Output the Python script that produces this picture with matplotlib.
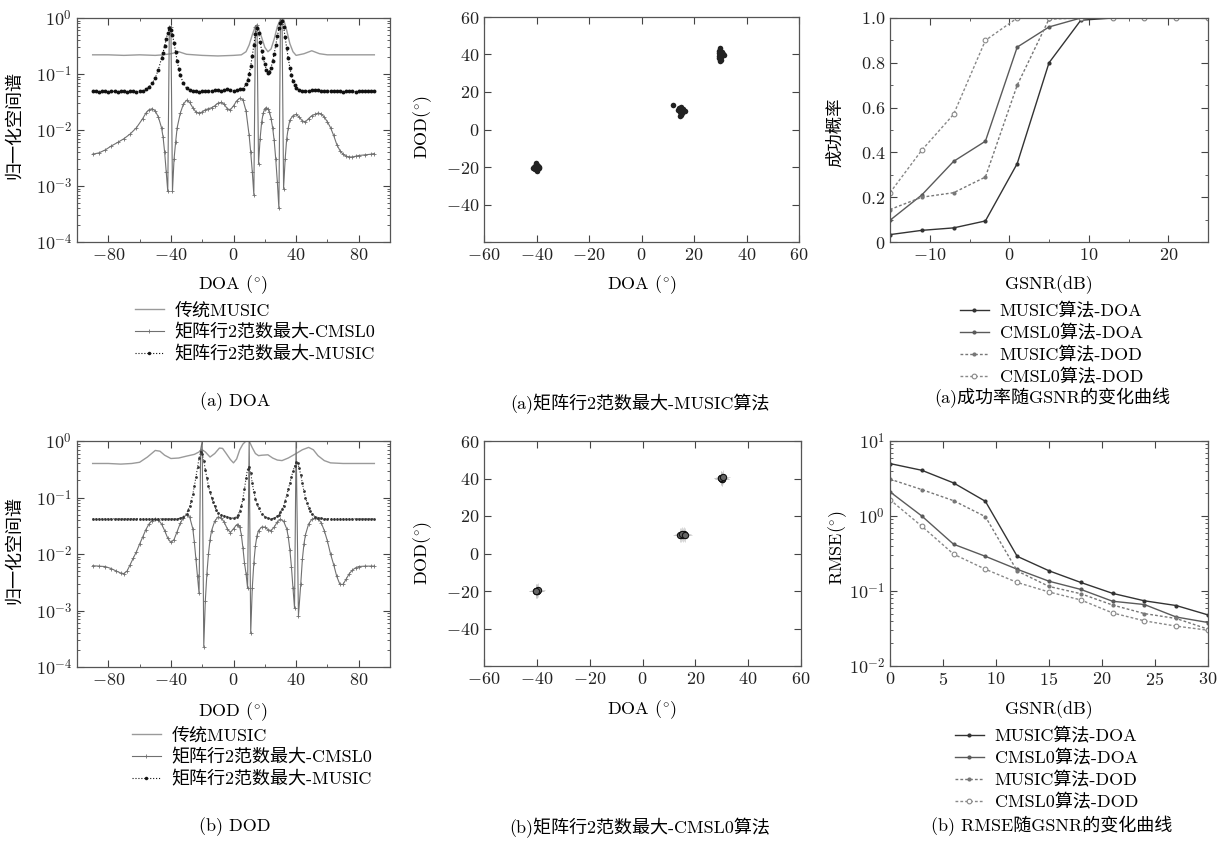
import numpy as np
import matplotlib
matplotlib.use("Agg")
import matplotlib.pyplot as plt
from matplotlib.ticker import FuncFormatter, MultipleLocator, LogLocator, NullFormatter
from matplotlib.lines import Line2D

plt.rcParams['font.family'] = ['cmr10', 'Noto Sans CJK SC']
plt.rcParams['mathtext.fontset'] = 'cm'
plt.rcParams['axes.unicode_minus'] = False
plt.rcParams['font.size'] = 13

# ---------------- data ----------------
# (a) DOA spectra: (angle, normalised spectrum)
doa_music = [(-90, .22), (-80, .22), (-70, .215), (-60, .22), (-50, .215), (-45, .22), (-40, .23),
             (-35, .25), (-30, .225), (-20, .215), (-10, .21), (0, .215), (5, .22), (8, .25), (10, .33),
             (12, .5), (14, .72), (15, .74), (16, .66), (18, .45), (20, .3), (22, .25), (24, .28),
             (26, .42), (28, .7), (30, .95), (31, 1.0), (32, .95), (34, .6), (36, .35), (38, .25),
             (40, .215), (45, .23), (50, .26), (55, .23), (60, .22), (70, .22), (80, .22), (90, .22)]

doa_cmsl0 = [(-90, 3.7e-3), (-86, 3.9e-3), (-82, 4.4e-3), (-78, 5.2e-3), (-74, 6e-3), (-70, 7e-3),
             (-66, 8.5e-3), (-62, .011), (-58, .016), (-56, .02), (-54, .023), (-52, .024), (-50, .022),
             (-48, .017), (-46, .011), (-45, 7.5e-3), (-44, 4e-3), (-43, 1.8e-3), (-42, 8e-4), (-41, .7),
             (-40, .7), (-39, 8e-4), (-38, 3e-3), (-37, 6e-3), (-36, .011), (-34, .02), (-32, .029),
             (-30, .034), (-28, .031), (-26, .025), (-24, .021), (-22, .02), (-20, .021), (-18, .023),
             (-16, .024), (-14, .025), (-12, .027), (-10, .03), (-8, .031), (-6, .029), (-4, .024),
             (-2, .023), (0, .027), (2, .033), (4, .037), (6, .035), (8, .022), (10, 8e-3), (11, 4e-3),
             (12, 1.8e-3), (13, 7e-4), (14, .7), (15, .75), (16, 2.5e-3), (17, 7e-3), (18, .014),
             (19, .02), (20, .024), (21, .025), (22, .024), (23, .021), (24, .016), (25, .011),
             (26, 6.5e-3), (27, 3e-3), (28, 1.2e-3), (29, 4e-4), (30, 1.0), (31, 1.0), (32, 9e-4),
             (33, 3e-3), (34, 7e-3), (35, .011), (36, .015), (38, .018), (40, .019), (42, .017),
             (44, .0145), (46, .014), (48, .016), (50, .018), (52, .019), (54, .02), (56, .0195),
             (58, .017), (60, .014), (62, .011), (64, 8e-3), (66, 5.5e-3), (68, 4.3e-3), (70, 3.7e-3),
             (72, 3.4e-3), (74, 3.3e-3), (76, 3.3e-3), (78, 3.4e-3), (80, 3.5e-3), (84, 3.6e-3),
             (88, 3.7e-3), (90, 3.8e-3)]

doa_rowmusic = [(-90, .049), (-88, .049), (-86, .048), (-84, .049), (-82, .049), (-80, .048), (-78, .049),
                (-76, .049), (-74, .048), (-72, .049), (-70, .049), (-68, .048), (-66, .049), (-64, .049),
                (-62, .048), (-60, .049), (-58, .050), (-56, .053), (-54, .058), (-52, .068), (-50, .085),
                (-48, .12), (-46, .19), (-45, .24), (-44, .32), (-43, .42), (-42, .55), (-41, .66),
                (-40, .62), (-39, .5), (-38, .36), (-37, .25), (-36, .17), (-35, .125), (-34, .095),
                (-32, .068), (-30, .056), (-28, .052), (-26, .050), (-24, .049), (-22, .048), (-20, .049),
                (-18, .049), (-16, .050), (-14, .050), (-12, .051), (-10, .052), (-8, .050), (-6, .051),
                (-4, .053), (-2, .052), (0, .050), (2, .051), (4, .053), (6, .055), (8, .065), (9, .078),
                (10, .10), (11, .14), (12, .21), (13, .33), (14, .52), (15, .66), (16, .55), (17, .38),
                (18, .26), (19, .19), (20, .15), (21, .12), (22, .105), (23, .11), (24, .13), (25, .17),
                (26, .23), (27, .33), (28, .47), (29, .65), (30, .8), (31, .9), (32, .7), (33, .45),
                (34, .29), (35, .19), (36, .13), (37, .095), (38, .075), (39, .064), (40, .057),
                (42, .052), (44, .050), (46, .049), (48, .050), (50, .051), (52, .052), (54, .051),
                (56, .050), (58, .049), (60, .049), (62, .050), (64, .049), (66, .049), (68, .049),
                (70, .048), (72, .049), (74, .049), (76, .049), (78, .048), (80, .049), (82, .049),
                (84, .049), (86, .049), (88, .049), (90, .049)]

# (b) DOD spectra
dod_music = [(-90, .40), (-80, .40), (-72, .39), (-65, .40), (-60, .42), (-55, .52), (-50, .68), (-47, .66),
             (-44, .56), (-40, .49), (-35, .50), (-30, .54), (-25, .58), (-22, .64), (-20, .70), (-18, .64),
             (-15, .52), (-12, .6), (-9, .75), (-7, .74), (-5, .62), (-2, .47), (0, .41), (2, .48), (4, .7),
             (6, .88), (8, 1.0), (10, 1.0), (12, .76), (14, .6), (16, .55), (18, .56), (22, .57), (25, .5),
             (28, .46), (31, .45), (35, .5), (40, .6), (44, .7), (48, .77), (51, .7), (54, .55), (58, .45),
             (62, .41), (70, .40), (80, .40), (90, .40)]

dod_cmsl0 = [(-90, 6.2e-3), (-86, 6.1e-3), (-82, 6.0e-3), (-78, 5.5e-3), (-75, 5e-3), (-72, 4.6e-3),
             (-70, 4.5e-3), (-68, 5e-3), (-66, 6.5e-3), (-64, 8.5e-3), (-62, .011), (-60, .015), (-58, .02),
             (-56, .027), (-54, .034), (-52, .039), (-50, .041), (-48, .04), (-46, .034), (-44, .026),
             (-42, .019), (-40, .016), (-38, .018), (-36, .025), (-34, .035), (-32, .044), (-30, .05),
             (-28, .045), (-26, .028), (-25, .016), (-24, 8e-3), (-23, 4e-3), (-22, 2e-3), (-21, .7),
             (-20, 1.0), (-19, 2.3e-4), (-18, 1.5e-3), (-17, 4.5e-3), (-16, .01), (-15, .018), (-14, .026),
             (-12, .038), (-10, .045), (-8, .044), (-6, .037), (-4, .028), (-2, .024), (0, .028), (2, .033),
             (3, .033), (4, .03), (5, .022), (6, .013), (7, 7e-3), (8, 4.5e-3), (9, 2.5e-3), (10, 1.0),
             (11, 4e-4), (12, 2.5e-3), (13, 7e-3), (14, .014), (15, .021), (16, .026), (18, .03), (20, .03),
             (22, .027), (24, .026), (26, .03), (28, .037), (30, .041), (32, .038), (34, .028), (35, .02),
             (36, .012), (37, 6e-3), (38, 2.5e-3), (39, 1.1e-3), (40, 1.0), (41.5, 8e-4), (43, 3e-3),
             (44, 8e-3), (45, .015), (46, .022), (48, .034), (50, .041), (52, .043), (54, .042), (56, .036),
             (58, .026), (60, .017), (62, .01), (64, 6.5e-3), (66, 4e-3), (68, 2.9e-3), (70, 2.9e-3),
             (72, 3.6e-3), (74, 4.5e-3), (76, 5.2e-3), (78, 5.7e-3), (80, 6e-3), (84, 6.1e-3),
             (88, 6.1e-3), (90, 6.1e-3)]

dod_rowmusic = [(-90, .042), (-88, .042), (-86, .042), (-84, .042), (-82, .042), (-80, .042), (-78, .042),
                (-76, .042), (-74, .042), (-72, .042), (-70, .042), (-68, .042), (-66, .042), (-64, .042),
                (-62, .042), (-60, .042), (-58, .042), (-56, .042), (-54, .042), (-52, .042), (-50, .042),
                (-48, .042), (-46, .042), (-44, .042), (-42, .042), (-40, .042), (-38, .042), (-36, .042),
                (-34, .043), (-32, .046), (-30, .052), (-29, .06), (-28, .07), (-27, .088), (-26, .115),
                (-25, .16), (-24, .23), (-23, .34), (-22, .5), (-21, .65), (-20, .6), (-19, .45), (-18, .31),
                (-17, .22), (-16, .16), (-15, .125), (-14, .1), (-13, .083), (-12, .07), (-11, .06),
                (-10, .054), (-8, .05), (-6, .048), (-4, .046), (-2, .044), (0, .043), (2, .046), (3, .05),
                (4, .058), (5, .07), (6, .095), (7, .14), (8, .22), (9, .32), (10, .35), (11, .27), (12, .18),
                (13, .125), (14, .095), (15, .078), (16, .065), (18, .052), (20, .046), (22, .043), (24, .042),
                (26, .043), (28, .047), (29, .05), (30, .055), (31, .062), (32, .072), (33, .088), (34, .11),
                (35, .14), (36, .18), (37, .23), (38, .29), (39, .36), (40, .42), (41, .4), (42, .33),
                (43, .25), (44, .18), (45, .13), (46, .1), (47, .08), (48, .066), (49, .057), (50, .051),
                (52, .046), (54, .044), (56, .043), (58, .042), (60, .042), (62, .042), (64, .042), (66, .042),
                (68, .042), (70, .042), (72, .042), (74, .042), (76, .042), (78, .042), (80, .042), (82, .042),
                (84, .042), (86, .042), (88, .042), (90, .042)]

# scatter estimates (DOA, DOD)
est_music_doa = [-40.8, -40.3, -39.7, -39.2, -40.0, -40.6, -39.5, -40.2, -39.9, -41.2, -38.9, -40.4, -39.6,
                 -40.1, -39.8, -40.5, -39.3, -40.0, -39.7, -40.9,
                 14.8, 15.3, 15.9, 14.4, 15.1, 16.2, 14.9, 15.6, 13.9, 15.2, 14.6, 15.8, 15.0, 16.5, 14.3,
                 15.4, 14.7, 12.0,
                 30.2, 29.6, 30.8, 29.9, 30.4, 31.0, 29.4, 30.1, 30.6, 29.8, 30.3, 31.3, 29.5, 30.0, 30.7,
                 29.7, 30.2, 30.5]
est_music_dod = [-20.5, -19.6, -20.9, -20.2, -18.8, -21.3, -19.9, -20.0, -21.8, -20.4, -20.6, -19.2, -20.3,
                 -17.6, -20.8, -21.0, -19.5, -20.1, -22.2, -19.9,
                 10.2, 9.5, 10.8, 11.3, 8.6, 10.1, 7.9, 9.8, 10.4, 11.8, 9.2, 10.6, 10.0, 9.9, 10.9,
                 8.9, 7.2, 13.0,
                 40.3, 39.2, 41.0, 42.2, 38.6, 40.1, 40.8, 37.3, 39.7, 43.2, 40.5, 39.8, 41.6, 36.6, 40.0,
                 38.2, 39.5, 41.3]
est_cmsl0_doa = [-40.2, -39.8, -40.0, -39.6, -40.4, 14.6, 15.2, 15.8, 14.2, 15.0, 16.0,
                 29.8, 30.2, 30.0, 29.6, 30.4]
est_cmsl0_dod = [-19.8, -20.2, -20.0, -19.6, -20.1, 10.1, 9.8, 10.2, 10.0, 10.3, 9.9,
                 40.2, 39.8, 40.0, 40.3, 40.6]

# success probability vs GSNR
gsnr_p = [-15, -11, -7, -3, 1, 5, 9, 13, 17, 21, 25]
p_music_doa = [0.033, 0.052, 0.063, 0.094, 0.35, 0.80, 0.99, 1.0, 1.0, 1.0, 1.0]
p_cmsl0_doa = [0.097, 0.21, 0.36, 0.45, 0.87, 0.96, 1.0, 1.0, 1.0, 1.0, 1.0]
p_music_dod = [0.145, 0.20, 0.22, 0.29, 0.70, 0.995, 1.0, 1.0, 1.0, 1.0, 1.0]
p_cmsl0_dod = [0.22, 0.41, 0.57, 0.90, 1.0, 1.0, 1.0, 1.0, 1.0, 1.0, 1.0]

# RMSE vs GSNR
gsnr_r = [0, 3, 6, 9, 12, 15, 18, 21, 24, 27, 30]
r_music_doa = [5.0, 4.07, 2.76, 1.57, 0.29, 0.186, 0.13, 0.093, 0.074, 0.064, 0.048]
r_cmsl0_doa = [2.1, 1.0, 0.42, 0.29, 0.195, 0.135, 0.105, 0.073, 0.066, 0.045, 0.038]
r_music_dod = [3.1, 2.25, 1.6, 0.98, 0.185, 0.115, 0.092, 0.065, 0.05, 0.043, 0.031]
r_cmsl0_dod = [1.65, 0.73, 0.31, 0.195, 0.13, 0.097, 0.076, 0.051, 0.04, 0.034, 0.030]

lab_spec = ['传统MUSIC', '矩阵行2范数最大-CMSL0', '矩阵行2范数最大-MUSIC']
lab_alg = ['MUSIC算法-DOA', 'CMSL0算法-DOA', 'MUSIC算法-DOD', 'CMSL0算法-DOD']

DEG = r'(${}^{\circ}$)'

# ---------------- layout helpers (pixel coords) ----------------
W, H = 1220, 841


def box(x0, y0, x1, y1):
    return [x0 / W, 1 - y1 / H, (x1 - x0) / W, (y1 - y0) / H]


def pt(x, y):
    return (x / W, 1 - y / H)


def lin_fmt(v, p):
    return f"${v:g}$"


def log_fmt(v, p):
    return f"$10^{{{int(round(np.log10(v)))}}}$"


def style(ax):
    ax.tick_params(which='both', direction='in', top=True, right=True, colors='#444', labelsize=13,
                   labelcolor='#222')
    ax.tick_params(which='major', length=5, width=0.8)
    ax.tick_params(which='minor', length=2.5, width=0.6)
    for s in ax.spines.values():
        s.set_color('#555')
        s.set_linewidth(0.9)


def log_axis(ax):
    ax.set_yscale('log')
    ax.yaxis.set_major_locator(LogLocator(base=10, numticks=10))
    ax.yaxis.set_minor_locator(LogLocator(base=10, subs=np.arange(2, 10), numticks=20))
    ax.yaxis.set_major_formatter(FuncFormatter(log_fmt))
    ax.yaxis.set_minor_formatter(NullFormatter())


fig = plt.figure(figsize=(12.2, 8.41), dpi=100)

c_music = '#9a9a9a'
c_cmsl0 = '#707070'
c_row = '#111111'


def spectrum(rect, a, b, c, row_ms, row_col):
    ax = fig.add_axes(box(*rect))
    xa, ya = np.array(a).T
    xb, yb = np.array(b).T
    xc, yc = np.array(c).T
    ax.plot(xa, ya, color=c_music, lw=1.0)
    ax.plot(xb, yb, color=c_cmsl0, lw=0.8, marker='+', ms=3, mew=0.6)
    ax.plot(xc, yc, color=row_col, lw=0.8, ls=':', marker='o', ms=row_ms, mew=0)
    log_axis(ax)
    ax.set_ylim(1e-4, 1)
    ax.set_xlim(-100, 100)
    ax.xaxis.set_major_locator(MultipleLocator(40))
    ax.xaxis.set_minor_locator(MultipleLocator(20))
    ax.xaxis.set_major_formatter(FuncFormatter(lin_fmt))
    style(ax)
    return ax


# (a) DOA spectrum
ax1 = spectrum((77, 18, 390, 242), doa_music, doa_cmsl0, doa_rowmusic, 2.8, c_row)
# (b) DOD spectrum
ax4 = spectrum((77, 441, 390, 667), dod_music, dod_cmsl0, dod_rowmusic, 2.0, '#333333')

spec_handles = [Line2D([], [], color=c_music, lw=1.0),
                Line2D([], [], color=c_cmsl0, lw=0.8, marker='+', ms=3, mew=0.6),
                Line2D([], [], color=c_row, lw=0.8, ls=':', marker='o', ms=2.5, mew=0)]

# scatter plots
for rect, xs, ys, cross in [((484, 17, 799, 242), est_music_doa, est_music_dod, False),
                            ((484, 441, 801, 666), est_cmsl0_doa, est_cmsl0_dod, True)]:
    ax = fig.add_axes(box(*rect))
    if cross:
        ax.plot(xs, ys, ls='none', marker='+', ms=10, mew=0.4, color='#bbbbbb')
        ax.plot(xs, ys, ls='none', marker='o', ms=4.5, mfc='#666666', mec='#111111', mew=0.8)
    else:
        ax.plot(xs, ys, ls='none', marker='o', ms=4.0, color='#222222', mew=0)
    ax.set_xlim(-60, 60)
    ax.set_ylim(-60, 60)
    ax.xaxis.set_major_locator(MultipleLocator(20))
    ax.yaxis.set_major_locator(MultipleLocator(20))
    ax.xaxis.set_major_formatter(FuncFormatter(lin_fmt))
    ax.yaxis.set_major_formatter(FuncFormatter(lambda v, p: '' if v <= -60 else f"${v:g}$"))
    style(ax)

# success probability
ax3 = fig.add_axes(box(890, 18, 1208, 242))
alg_styles = [dict(color='#333333', lw=1.0, ls='-', marker='o', ms=3.0, mew=0),
              dict(color='#5a5a5a', lw=1.0, ls='-', marker='o', ms=3.0, mew=0),
              dict(color='#777777', lw=1.0, ls=(0, (2, 1.5)), marker='o', ms=3.0, mew=0),
              dict(color='#888888', lw=1.0, ls=(0, (2, 1.5)), marker='o', ms=3.4, mfc='white', mew=0.8)]
for ys, st in zip([p_music_doa, p_cmsl0_doa, p_music_dod, p_cmsl0_dod], alg_styles):
    ax3.plot(gsnr_p, ys, **st)
ax3.set_xlim(-15, 25)
ax3.set_ylim(0, 1)
ax3.xaxis.set_major_locator(MultipleLocator(10))
ax3.xaxis.set_minor_locator(MultipleLocator(5))
ax3.yaxis.set_major_locator(MultipleLocator(0.2))
ax3.yaxis.set_minor_locator(MultipleLocator(0.1))
ax3.xaxis.set_major_formatter(FuncFormatter(lin_fmt))
ax3.yaxis.set_major_formatter(FuncFormatter(lambda v, p: '$0$' if abs(v) < 1e-9 else f"${v:.1f}$"))
style(ax3)

# RMSE
ax6 = fig.add_axes(box(890, 441, 1208, 666))
for ys, st in zip([r_music_doa, r_cmsl0_doa, r_music_dod, r_cmsl0_dod], alg_styles):
    ax6.plot(gsnr_r, ys, **st)
log_axis(ax6)
ax6.set_ylim(1e-2, 1e1)
ax6.set_xlim(0, 30)
ax6.xaxis.set_major_locator(MultipleLocator(5))
ax6.xaxis.set_major_formatter(FuncFormatter(lin_fmt))
style(ax6)

alg_handles = [Line2D([], [], **st) for st in alg_styles]

# ---------------- labels, legends, captions ----------------
fs = 13
fig.text(*pt(233, 285), 'DOA ' + DEG, ha='center', va='center', fontsize=fs)
fig.text(*pt(642, 285), 'DOA ' + DEG, ha='center', va='center', fontsize=fs)
fig.text(*pt(1049, 285), 'GSNR(dB)', ha='center', va='center', fontsize=fs)
fig.text(*pt(233, 712), 'DOD ' + DEG, ha='center', va='center', fontsize=fs)
fig.text(*pt(642, 710), 'DOA ' + DEG, ha='center', va='center', fontsize=fs)
fig.text(*pt(1049, 710), 'GSNR(dB)', ha='center', va='center', fontsize=fs)

fig.text(*pt(14, 125), '归一化空间谱', rotation=90, ha='center', va='center', fontsize=13)
fig.text(*pt(14, 550), '归一化空间谱', rotation=90, ha='center', va='center', fontsize=13)
fig.text(*pt(423, 127), 'DOD' + DEG, rotation=90, ha='center', va='center', fontsize=fs)
fig.text(*pt(423, 553), 'DOD' + DEG, rotation=90, ha='center', va='center', fontsize=fs)
fig.text(*pt(835, 132), '成功概率', rotation=90, ha='center', va='center', fontsize=12.5)
fig.text(*pt(838, 548), 'RMSE' + DEG, rotation=90, ha='center', va='center', fontsize=fs)

leg_kw = dict(loc='upper left', frameon=False, handlelength=1.6, handletextpad=0.6, labelspacing=0.28,
              borderpad=0, borderaxespad=0, numpoints=1, fontsize=fs, bbox_transform=fig.transFigure)
fig.legend(spec_handles, lab_spec, bbox_to_anchor=pt(135, 302), **leg_kw)
fig.legend(spec_handles, lab_spec, bbox_to_anchor=pt(132, 727), **leg_kw)
fig.legend(alg_handles, lab_alg, bbox_to_anchor=pt(960, 302), **leg_kw)
fig.legend(alg_handles, lab_alg, bbox_to_anchor=pt(955, 727), **leg_kw)

fig.text(*pt(235, 402), '(a) DOA', ha='center', va='center', fontsize=fs)
fig.text(*pt(640, 404), '(a)矩阵行2范数最大-MUSIC算法', ha='center', va='center', fontsize=fs)
fig.text(*pt(1052, 398), '(a)成功率随GSNR的变化曲线', ha='center', va='center', fontsize=fs)
fig.text(*pt(235, 827), '(b) DOD', ha='center', va='center', fontsize=fs)
fig.text(*pt(640, 828), '(b)矩阵行2范数最大-CMSL0算法', ha='center', va='center', fontsize=fs)
fig.text(*pt(1052, 826), '(b) RMSE随GSNR的变化曲线', ha='center', va='center', fontsize=fs)

fig.savefig('out.png', dpi=100)
